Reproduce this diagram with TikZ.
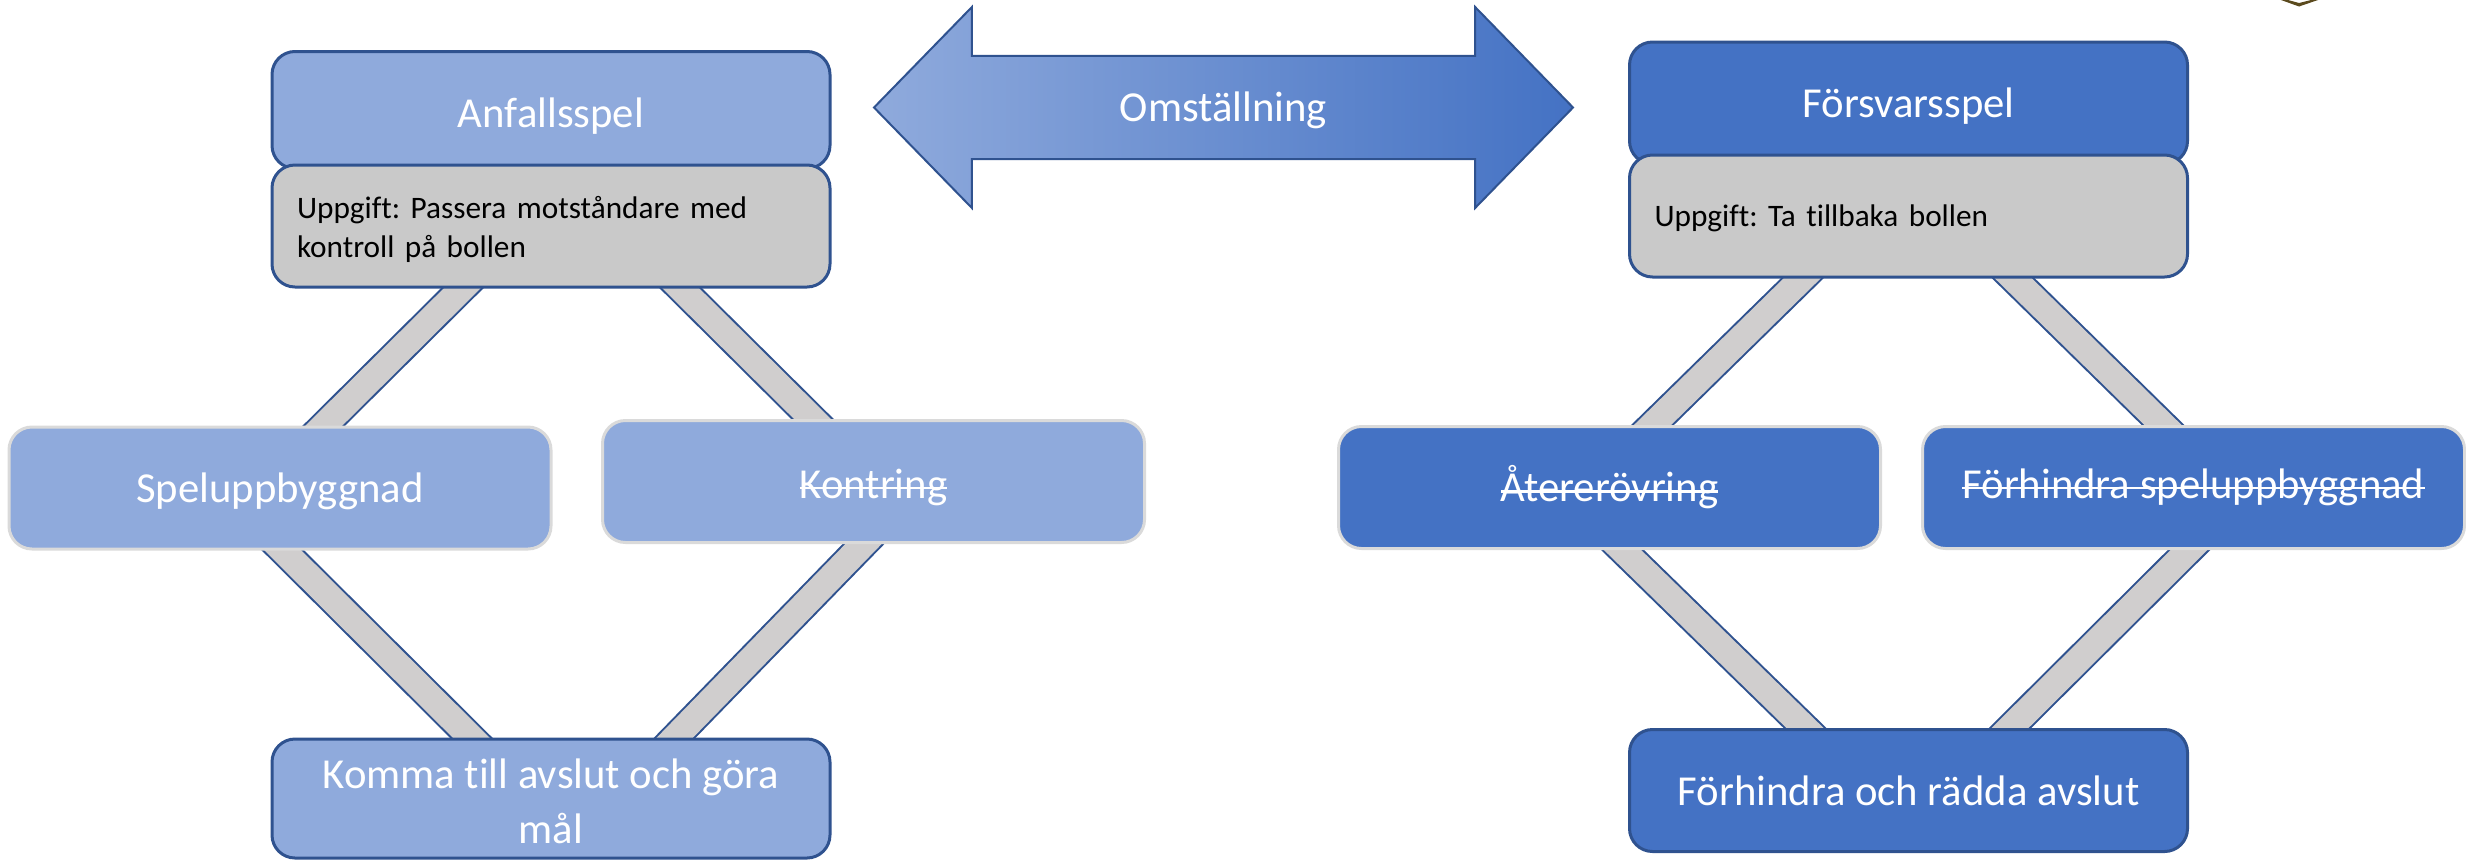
\documentclass[tikz,border=0pt]{standalone}
\usepackage{fontspec}
\setmainfont{Carlito}[Ligatures=NoCommon]
\usetikzlibrary{shapes.arrows,backgrounds}

\definecolor{lightblue}{HTML}{8FAADC}
\definecolor{darkblue}{HTML}{4472C4}
\definecolor{edgeblue}{HTML}{2F528F}
\definecolor{boxgrey}{HTML}{C9C9C9}
\definecolor{bandgrey}{HTML}{D0CECE}
\definecolor{rimgrey}{HTML}{DADADA}
\definecolor{logobrown}{HTML}{5B4A1E}

\frenchspacing

\newsavebox{\strikebox}
\newcommand{\strikeout}[1]{\sbox{\strikebox}{#1}\rlap{\rule[0.22em]{\wd\strikebox}{0.05em}}\usebox{\strikebox}}
\newcommand{\nudge}[2]{\raisebox{-#1}[\height][\depth]{#2}}

\tikzset{
  box/.style={rectangle,rounded corners=2.3mm,inner sep=2pt,align=center,text=white,
    line width=0.03cm,font=\fontsize{12.15}{15.8}\selectfont},
  mainbox/.style={box,draw=edgeblue,minimum width=5.58cm,minimum height=1.22cm},
  subbox/.style={box,draw=rimgrey,minimum width=5.42cm,minimum height=1.22cm},
  taskbox/.style={mainbox,fill=boxgrey,text=black,align=left,text width=5.08cm,
    font=\fontsize{8.9}{11.1}\selectfont},
  band/.style={draw=edgeblue,line width=0.02cm,double=bandgrey,double distance=0.26cm,
    shorten <=-3mm,shorten >=-3mm},
}

\begin{document}
\begin{tikzpicture}

    \useasboundingbox (0,0) rectangle (24.66,8.59);

    % left side:
    \node (anfall) at (5.51, 7.49) [mainbox,fill=lightblue,minimum height=1.17cm] {\nudge{0.06cm}{Anfallsspel}};
    \node (anfalltask) at (5.51, 6.33) [taskbox] {\nudge{0.03cm}{Uppgift: Passera motståndare med}\\\nudge{0.03cm}{kontroll på bollen}};
    \node (spelupp) at (2.80, 3.71) [subbox,fill=lightblue] {\nudge{0.03cm}{Speluppbyggnad}};
    \node (kontring) at (8.735, 3.775) [subbox,fill=lightblue] {\nudge{0.06cm}{\strikeout{Kontring}}};
    \node (komma) at (5.51, 0.605) [mainbox,fill=lightblue,minimum height=1.19cm] {\nudge{0.03cm}{Komma till avslut och göra}\\\nudge{0.03cm}{mål}};

    % right side:
    \node (forsvar) at (19.085, 7.56) [mainbox,fill=darkblue] {\nudge{0.03cm}{Försvarsspel}};
    \node (forsvartask) at (19.085, 6.43) [taskbox] {\nudge{0.02cm}{Uppgift: Ta tillbaka bollen}};
    \node (ater) at (16.095, 3.715) [subbox,fill=darkblue] {\strikeout{Återerövring}};
    \node (hindraspel) at (21.935, 3.715) [subbox,fill=darkblue] {\strikeout{Förhindra speluppbyggnad}};
    \node (hindra) at (19.085, 0.685) [mainbox,fill=darkblue] {Förhindra och rädda avslut};

    % arrow between the sides:
    \node (omst) at (12.235, 7.515) [double arrow,draw=edgeblue,line width=0.02cm,
      left color=lightblue,right color=darkblue,text=white,inner sep=0pt,
      minimum width=2.01cm,minimum height=6.99cm,double arrow head extend=0.185cm,
      double arrow tip angle=91.5,font=\fontsize{12.15}{15.8}\selectfont] {\nudge{0.03cm}{Omställning}};

    % logo corner:
    \fill [logobrown] (22.81, 8.59) -- (22.99, 8.525) -- (23.18, 8.59) -- (23.11, 8.59)
      -- (22.99, 8.56) -- (22.88, 8.59) -- cycle;

    % connect nodes:
    \begin{pgfonlayer}{background}
      \draw [band] ([xshift=-0.89cm]anfalltask.south) to ([xshift=0.44cm]spelupp.north);
      \draw [band] ([xshift=1.30cm]anfalltask.south) to ([xshift=-0.61cm]kontring.north);
      \draw [band] ([xshift=0.03cm]spelupp.south) to ([xshift=-0.80cm]komma.north);
      \draw [band] ([xshift=-0.10cm]kontring.south) to ([xshift=1.24cm]komma.north);
      \draw [band] ([xshift=-1.065cm]forsvartask.south) to ([xshift=0.43cm]ater.north);
      \draw [band] ([xshift=1.05cm]forsvartask.south) to ([xshift=-0.305cm]hindraspel.north);
      \draw [band] ([xshift=0.13cm]ater.south) to ([xshift=-1.035cm]hindra.north);
      \draw [band] ([xshift=-0.045cm]hindraspel.south) to ([xshift=1.015cm]hindra.north);
    \end{pgfonlayer}

\end{tikzpicture}
\end{document}
